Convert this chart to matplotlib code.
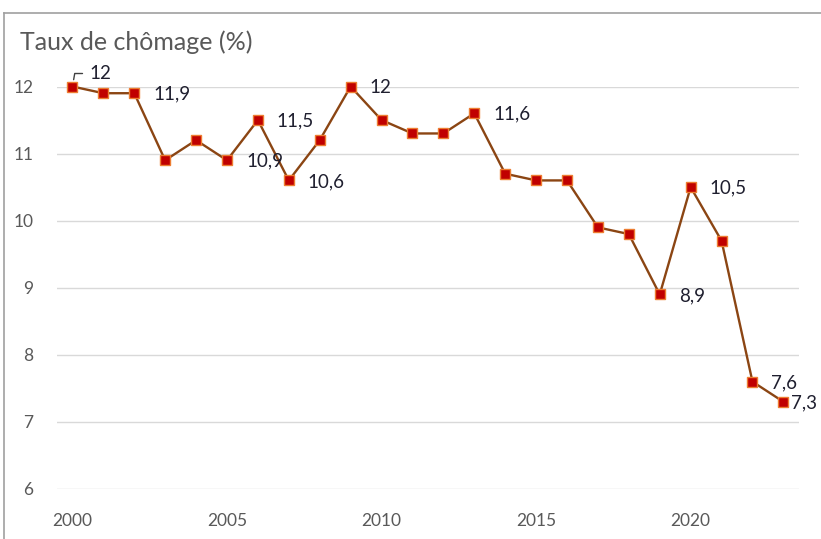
import matplotlib.pyplot as plt
from matplotlib.lines import Line2D

years = list(range(2000, 2024))
taux = [12, 11.9, 11.9, 10.9, 11.2, 10.9, 11.5, 10.6, 11.2, 12, 11.5, 11.3,
        11.3, 11.6, 10.7, 10.6, 10.6, 9.9, 9.8, 8.9, 10.5, 9.7, 7.6, 7.3]
# years that get a data label
labelled = [2002, 2005, 2006, 2007, 2009, 2013, 2019, 2020, 2022, 2023]
yticks = [6, 7, 8, 9, 10, 11, 12]

plt.rcParams['font.family'] = ['Lato', 'DejaVu Sans']

fig = plt.figure(figsize=(8.21, 5.39), dpi=100)
ax = fig.add_axes([0.0694, 0.0928, 0.9036, 0.7467])

ax.plot(years, taux, color='#8B4513', lw=1.7, marker='s', ms=7,
        mfc='#C00000', mec='#ED7D31', mew=1, clip_on=False, zorder=3)

for yr, v in zip(years, taux):
    if yr in labelled:
        dx = 8 if yr == 2023 else 19
        ax.annotate(f'{v:g}'.replace('.', ','), (yr, v), xytext=(dx, -1),
                    textcoords='offset pixels', ha='left', va='center',
                    fontsize=13.5, color='#1F1F2F')

# first point: label above with small leader line
ax.annotate('12', (2000, 12), xytext=(17, 13), textcoords='offset pixels',
            ha='left', va='center', fontsize=13.5, color='#1F1F2F',
            arrowprops=dict(arrowstyle='-', color='#404040', lw=1,
                            shrinkA=3, shrinkB=5,
                            connectionstyle='angle,angleA=0,angleB=80'))

ax.set_xlim(1999.5, 2023.5)
ax.set_ylim(6, 12)
ax.set_yticks(yticks)
ax.set_xticks([2000, 2005, 2010, 2015, 2020])
ax.tick_params(axis='both', length=0, labelsize=12.5, labelcolor='#595959')
ax.tick_params(axis='y', pad=17)
ax.tick_params(axis='x', pad=17)
ax.grid(axis='y', color='#D9D9D9', lw=1)
ax.set_axisbelow(True)
for s in ax.spines.values():
    s.set_visible(False)

fig.text(20 / 821, 1 - 42 / 539, 'Taux de chômage (%)', fontsize=18,
         color='#595959', va='center', ha='left')

# outer chart frame (left and top edges visible)
fig.add_artist(Line2D([3.5 / 821, 3.5 / 821], [0, 1 - 13 / 539],
                      color='#A0A0A0', lw=1.2, transform=fig.transFigure))
fig.add_artist(Line2D([3.5 / 821, 1], [1 - 13 / 539, 1 - 13 / 539],
                      color='#A0A0A0', lw=1.2, transform=fig.transFigure))

fig.savefig('out.png', dpi=100)
